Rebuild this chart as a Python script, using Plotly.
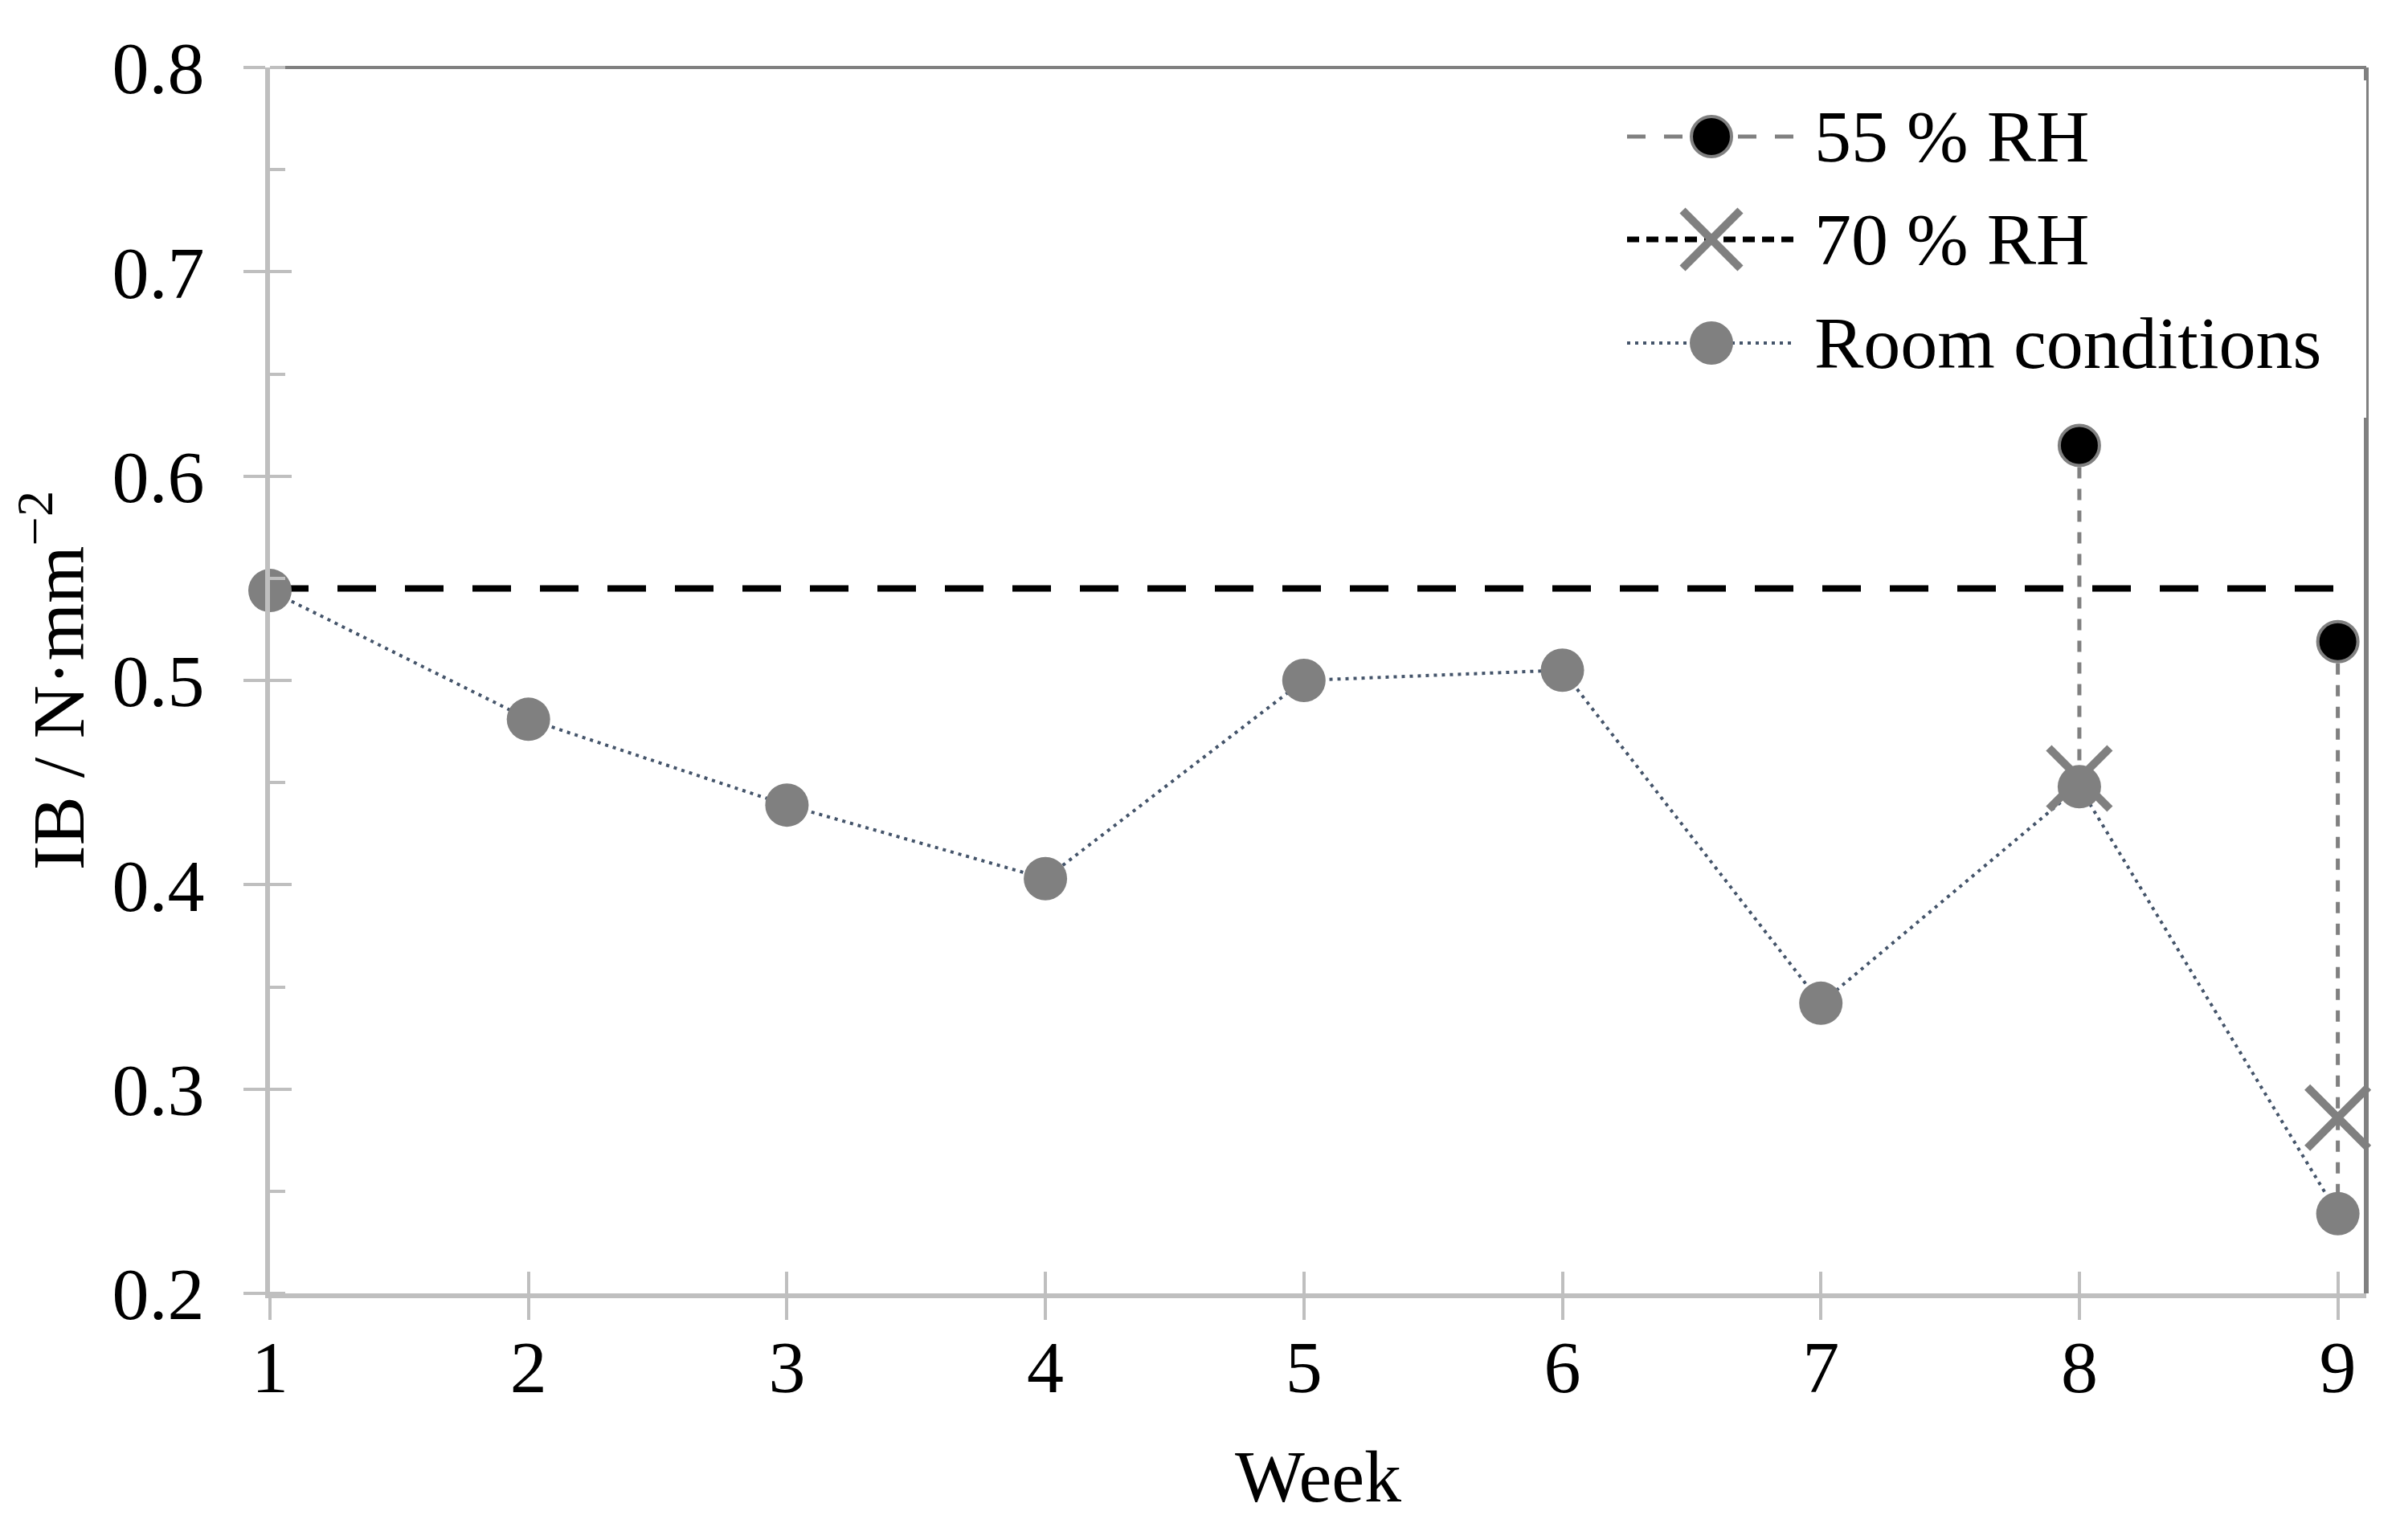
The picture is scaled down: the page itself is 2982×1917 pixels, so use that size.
import plotly.graph_objects as go

# ---------------- data ----------------
weeks = [1, 2, 3, 4, 5, 6, 7, 8, 9]
room_conditions = [0.544, 0.481, 0.439, 0.403, 0.500, 0.505, 0.342, 0.448, 0.239]
rh55_weeks = [8, 9]
rh55_values = [0.615, 0.519]
rh70_weeks = [8, 9]
rh70_values = [0.452, 0.286]
ref_weeks = [1, 9]
ref_values = [0.545, 0.545]
y_tick_values = [0.2, 0.3, 0.4, 0.5, 0.6, 0.7, 0.8]
x_tick_values = weeks
legend_names = ["55 % RH", "70 % RH", "Room conditions"]

# ---------------- styling ----------------
PAGE_W, PAGE_H = 2982, 1917
BODY = 8                      # default browser body margin
W, H = PAGE_W - 2 * BODY, PAGE_H - 2 * BODY
# plot area in page pixels
PL, PR, PT, PB = 336, 2945, 84, 1610
ML = PL - BODY
MT = PT - BODY
MR = W - (PR - BODY)
MB = H - (PB - BODY)
plot_w = PR - PL
plot_h = PB - PT

FONT = "Liberation Serif"
FS = 92
AXIS_GRAY = "#bfbfbf"
FRAME_GRAY = "#808080"
MARK_GRAY = "#808080"
ROOM_LINE = "#44546a"

fig = go.Figure()

# reference horizontal line
fig.add_trace(go.Scatter(
    x=ref_weeks, y=ref_values, mode="lines",
    line=dict(color="black", width=8, dash="48px,36px"),
    showlegend=False, hoverinfo="skip", cliponaxis=False))

# room conditions
fig.add_trace(go.Scatter(
    x=weeks, y=room_conditions, mode="lines+markers", name=legend_names[2],
    line=dict(color=ROOM_LINE, width=4, dash="4px,6px"),
    marker=dict(symbol="circle", size=54, color=MARK_GRAY, line=dict(width=0)),
    showlegend=False, cliponaxis=False))

# drop lines from 55 % RH points to room condition values
drop_x, drop_y = [], []
for wk, val in zip(rh55_weeks, rh55_values):
    idx = weeks.index(wk)
    drop_x += [wk, wk, None]
    drop_y += [val, room_conditions[idx], None]
fig.add_trace(go.Scatter(
    x=drop_x, y=drop_y, mode="lines",
    line=dict(color=MARK_GRAY, width=5, dash="14px,13px"),
    showlegend=False, hoverinfo="skip", cliponaxis=False))

# 70 % RH
fig.add_trace(go.Scatter(
    x=rh70_weeks, y=rh70_values, mode="markers", name=legend_names[1],
    marker=dict(symbol="x-thin", size=76, color=MARK_GRAY,
                line=dict(color=MARK_GRAY, width=10)),
    showlegend=False, cliponaxis=False))

# 55 % RH
fig.add_trace(go.Scatter(
    x=rh55_weeks, y=rh55_values, mode="markers", name=legend_names[0],
    marker=dict(symbol="circle", size=50, color="black",
                line=dict(color=MARK_GRAY, width=4)),
    showlegend=False, cliponaxis=False))

# dummy trace for overlay axes (inner halves of crossing ticks)
fig.add_trace(go.Scatter(x=[None], y=[None], xaxis="x3", yaxis="y3",
                         mode="markers", showlegend=False, hoverinfo="skip"))

# ---------------- manual legend (page-pixel auxiliary axes) ----------------
leg_px_x0 = 1900
leg_px_y0, leg_px_y1 = 100, 520
lx_d0 = (leg_px_x0 - PL) / plot_w
ly_d0 = (PB - leg_px_y1) / plot_h
ly_d1 = (PB - leg_px_y0) / plot_h

leg_rows_y = [170, 298, 427]
sym_x0, sym_x1 = 2025, 2235
sym_xc = (sym_x0 + sym_x1) / 2
text_x = 2256

leg_line_styles = [
    dict(color=MARK_GRAY, width=5, dash="23px,23px"),
    dict(color="black", width=7, dash="15px,9px"),
    dict(color=ROOM_LINE, width=4, dash="4px,6px"),
]
leg_markers = [
    dict(symbol="circle", size=50, color="black", line=dict(color=MARK_GRAY, width=4)),
    dict(symbol="x-thin", size=72, color=MARK_GRAY, line=dict(color=MARK_GRAY, width=10)),
    dict(symbol="circle", size=54, color=MARK_GRAY, line=dict(width=0)),
]
for yy, ls, mk in zip(leg_rows_y, leg_line_styles, leg_markers):
    fig.add_trace(go.Scatter(x=[sym_x0, sym_x1], y=[yy, yy], mode="lines", line=ls,
                             xaxis="x2", yaxis="y2", showlegend=False,
                             hoverinfo="skip", cliponaxis=False))
    fig.add_trace(go.Scatter(x=[sym_xc], y=[yy], mode="markers", marker=mk,
                             xaxis="x2", yaxis="y2", showlegend=False,
                             hoverinfo="skip", cliponaxis=False))

annotations = []
for yy, name in zip(leg_rows_y, legend_names):
    annotations.append(dict(x=text_x, y=yy, xref="x2", yref="y2", text=name,
                            showarrow=False, xanchor="left", yanchor="middle",
                            font=dict(family=FONT, size=FS, color="black")))

# ---------------- layout ----------------
tick_font = dict(family=FONT, size=FS, color="black")

fig.update_layout(
    width=W, height=H,
    margin=dict(l=ML, r=MR, t=MT, b=MB, pad=0),
    paper_bgcolor="white", plot_bgcolor="white",
    font=dict(family=FONT, size=FS, color="black"),
    showlegend=False,
    annotations=annotations,
    xaxis=dict(
        range=[1, 9.11], tickvals=x_tick_values, ticktext=[str(v) for v in x_tick_values],
        showgrid=False, zeroline=False,
        showline=True, linecolor=AXIS_GRAY, linewidth=6,
        ticks="outside", ticklen=27, tickwidth=4, tickcolor=AXIS_GRAY,
        tickfont=tick_font, ticklabelstandoff=-20,
        title=dict(text="Week", font=dict(family=FONT, size=FS), standoff=54),
    ),
    yaxis=dict(
        range=[0.2, 0.8], tickvals=y_tick_values, tickformat=".1f",
        showgrid=False, zeroline=False,
        showline=True, linecolor=AXIS_GRAY, linewidth=6,
        ticks="outside", ticklen=27, tickwidth=4, tickcolor=AXIS_GRAY,
        tickfont=tick_font, ticklabelstandoff=30,
        minor=dict(ticks="inside", dtick=0.05, tick0=0.2, ticklen=19,
                   tickwidth=4, tickcolor=AXIS_GRAY, showgrid=False),
        title=dict(text="IB / N·mm<sup>−2</sup>", font=dict(family=FONT, size=FS), standoff=53),
    ),
    xaxis3=dict(
        overlaying="x", anchor="y", side="bottom", range=[1, 9.11],
        tickvals=x_tick_values, showticklabels=False, showgrid=False, zeroline=False,
        showline=False, ticks="inside", ticklen=27, tickwidth=4, tickcolor=AXIS_GRAY,
    ),
    yaxis3=dict(
        overlaying="y", anchor="x", side="left", range=[0.2, 0.8],
        tickvals=y_tick_values, showticklabels=False, showgrid=False, zeroline=False,
        showline=False, ticks="inside", ticklen=27, tickwidth=4, tickcolor=AXIS_GRAY,
    ),
    xaxis2=dict(domain=[lx_d0, 1], anchor="y2",
                range=[leg_px_x0, PR], visible=False, fixedrange=True),
    yaxis2=dict(domain=[ly_d0, ly_d1], anchor="x2",
                range=[leg_px_y1, leg_px_y0], visible=False, fixedrange=True),
    shapes=[
        dict(type="line", xref="paper", yref="paper", x0=0, x1=1, y0=1, y1=1,
             line=dict(color=FRAME_GRAY, width=4), layer="below"),
        dict(type="line", xref="paper", yref="paper", x0=1, x1=1, y0=0, y1=1,
             line=dict(color=FRAME_GRAY, width=6), layer="below"),
    ],
)

fig.write_html("out.html")
